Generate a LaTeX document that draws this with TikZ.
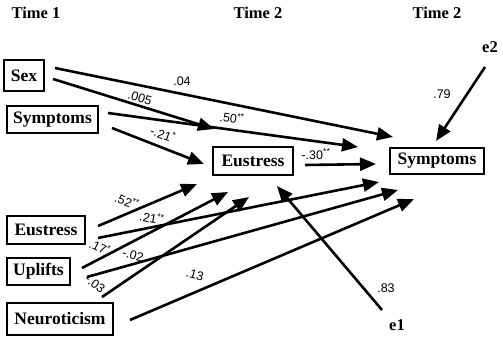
\documentclass[tikz,border=0pt]{standalone}
\usepackage{fontspec}
\setmainfont{Liberation Serif}
\newfontfamily\labfont{Liberation Sans}
\usetikzlibrary{arrows.meta}
\begin{document}
\begin{tikzpicture}[x=1pt,y=-1pt,
  box/.style={draw,line width=1.4pt,inner sep=0pt,font=\fontsize{17.5}{19}\selectfont\bfseries},
  ttl/.style={font=\fontsize{16.5}{18}\selectfont\bfseries,inner sep=0pt},
  lab/.style={font=\labfont\fontsize{12.5}{14}\selectfont,inner sep=0pt},
  arr/.style={line width=2.6pt,-{Triangle[length=16pt,width=13pt]}}]
\useasboundingbox (0,0) rectangle (503,337);
% titles
\node[ttl] (t1) at (36,13) {Time 1};
\node[ttl] (t2) at (258,13) {Time 2};
\node[ttl] (t3) at (437,13) {Time 2};
% boxes
\node[box,minimum width=40pt,minimum height=31pt] (sex) at (24,75.5) {Sex};
\node[box,minimum width=91pt,minimum height=27pt] (sym1) at (52.5,119.5) {Symptoms};
\node[box,minimum width=80pt,minimum height=28pt] (eus2) at (253,161) {Eustress};
\node[box,minimum width=94pt,minimum height=26pt] (sym2) at (437,161) {Symptoms};
\node[box,minimum width=78pt,minimum height=28pt] (eus1) at (46,230) {Eustress};
\node[box,minimum width=63pt,minimum height=27pt] (upl) at (38.5,271.5) {Uplifts};
\node[box,minimum width=106pt,minimum height=32pt] (neu) at (60,319) {Neuroticism};
\node[ttl] (e2) at (490,47) {e2};
\node[ttl] (e1) at (397,325) {e1};
% connector end points
\coordinate (a1s) at (55,68);   \coordinate (a1e) at (393,137);
\coordinate (a2s) at (53,79);   \coordinate (a2e) at (214,129);
\coordinate (a3s) at (108,113); \coordinate (a3e) at (358,147);
\coordinate (a4s) at (112,128); \coordinate (a4e) at (204,164);
\coordinate (a5s) at (305,165); \coordinate (a5e) at (376,164);
\coordinate (a6s) at (98,226);  \coordinate (a6e) at (197,184);
\coordinate (a7s) at (98,238);  \coordinate (a7e) at (379,182);
\coordinate (a8s) at (82,268);  \coordinate (a8e) at (228,192);
\coordinate (a9s) at (87,277);  \coordinate (a9e) at (398,190);
\coordinate (a10s) at (102,297); \coordinate (a10e) at (249,197);
\coordinate (a11s) at (130,320); \coordinate (a11e) at (414,199);
\coordinate (a12s) at (382,310); \coordinate (a12e) at (277,186);
\coordinate (a13s) at (485,67);  \coordinate (a13e) at (436,141);
% connectors
\draw[arr] (a1s) -- (a1e);
\draw[arr] (a2s) -- (a2e);
\draw[arr] (a3s) -- (a3e);
\draw[arr] (a4s) -- (a4e);
\draw[arr] (a5s) -- (a5e);
\draw[arr] (a6s) -- (a6e);
\draw[arr] (a7s) -- (a7e);
\draw[arr] (a8s) -- (a8e);
\draw[arr] (a9s) -- (a9e);
\draw[arr] (a10s) -- (a10e);
\draw[arr] (a11s) -- (a11e);
\draw[arr] (a12s) -- (a12e);
\draw[arr] (a13s) -- (a13e);
% labels
\node[lab] (l1) at (182,81) {.04};
\node[lab,rotate=-17] (l2) at (140,98) {.005};
\node[lab,rotate=-8] (l3) at (232,118) {.50\textsuperscript{**}};
\node[lab,rotate=-20] (l4) at (163,134) {-.21\textsuperscript{*}};
\node[lab] (l5) at (316,154) {-.30\textsuperscript{**}};
\node[lab] (l6) at (442,94) {.79};
\node[lab,rotate=-22] (l7) at (127,201) {.52\textsuperscript{**}};
\node[lab,rotate=-10] (l8) at (152,218) {.21\textsuperscript{**}};
\node[lab,rotate=-26] (l9) at (100,247) {.17\textsuperscript{*}};
\node[lab,rotate=-14] (l10) at (133,255) {-.02};
\node[lab,rotate=-38] (l11) at (95,284) {-.03};
\node[lab,rotate=-15] (l12) at (195,275) {.13};
\node[lab] (l13) at (386,288) {.83};
\end{tikzpicture}
\end{document}
